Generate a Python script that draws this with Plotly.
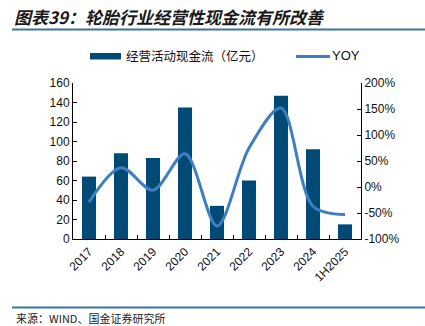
import plotly.graph_objects as go

categories = ['2017', '2018', '2019', '2020', '2021', '2022', '2023', '2024', '1H2025']
cash_flow = [64, 88, 83, 135, 34, 60, 147, 92, 15]
yoy_pct = [-29, 37, -6, 64, -75, 75, 152, -37, -53]
y1_ticks = [0, 20, 40, 60, 80, 100, 120, 140, 160]
y2_ticks = [-100, -50, 0, 50, 100, 150, 200]

BAR_COLOR = '#004a75'
LINE_COLOR = '#3e7fc1'
FONT = 'Liberation Sans, Arial, sans-serif'
CJK = 'Noto Sans CJK SC, sans-serif'

W, H = 425, 326
L, R, T, B = 73, 361, 83, 239


def px(x):
    return (x - L) / (R - L)


def py(y):
    return (B - y) / (B - T)


fig = go.Figure()
fig.add_trace(go.Bar(x=categories, y=cash_flow, marker_color=BAR_COLOR,
                     marker_line_width=0, name='经营活动现金流（亿元）', yaxis='y'))
fig.add_trace(go.Scatter(x=categories, y=yoy_pct, mode='lines',
                         line=dict(color=LINE_COLOR, width=3, shape='spline', smoothing=0.9),
                         name='YOY', yaxis='y2'))

fig.update_layout(
    width=W, height=H,
    margin=dict(l=L, r=W - R, t=T, b=H - B),
    paper_bgcolor='white', plot_bgcolor='white',
    showlegend=False,
    bargap=0.56,
    font=dict(family=FONT, size=12, color='#111111'),
    xaxis=dict(type='category', tickangle=-45, showline=True, linecolor='black', linewidth=1,
               ticks='inside', tickson='boundaries', ticklen=4, tickcolor='black',
               tickfont=dict(size=12, family=FONT), showgrid=False, zeroline=False),
    yaxis=dict(range=[0, 160], tickvals=y1_ticks, showline=True, linecolor='black', linewidth=1,
               ticks='inside', ticklen=4, tickcolor='black', showgrid=False, zeroline=False,
               tickfont=dict(size=12, family=FONT)),
    yaxis2=dict(range=[-100, 200], tickvals=y2_ticks, ticktext=[f'{v}%' for v in y2_ticks],
                overlaying='y', side='right', showline=True, linecolor='black', linewidth=1,
                ticks='inside', ticklen=4, tickcolor='black', showgrid=False, zeroline=False,
                tickfont=dict(size=12, family=FONT)),
)

shapes = []
annotations = []
# title
annotations.append(dict(xref='paper', yref='paper', x=px(12), y=py(17), xanchor='left', yanchor='middle',
                        text='<b><i>图表39：轮胎行业经营性现金流有所改善</i></b>', showarrow=False,
                        font=dict(family=CJK, size=17, color='#1a1a1a')))
shapes.append(dict(type='line', xref='paper', yref='paper', x0=px(12), x1=px(425), y0=py(29.5), y1=py(29.5),
                   line=dict(color='#3a72a0', width=2)))
# footer
shapes.append(dict(type='line', xref='paper', yref='paper', x0=px(12), x1=px(425), y0=py(307.5), y1=py(307.5),
                   line=dict(color='#3a72a0', width=2)))
annotations.append(dict(xref='paper', yref='paper', x=px(14), y=py(318), xanchor='left', yanchor='middle',
                        text='来源：WIND、国金证券研究所', showarrow=False,
                        font=dict(family=CJK, size=11, color='#222222')))
# legend
shapes.append(dict(type='rect', xref='paper', yref='paper', x0=px(90), x1=px(121), y0=py(53), y1=py(59.5),
                   fillcolor=BAR_COLOR, line=dict(width=0)))
annotations.append(dict(xref='paper', yref='paper', x=px(124), y=py(56), xanchor='left', yanchor='middle',
                        text='经营活动现金流（亿元）', showarrow=False,
                        font=dict(family=CJK, size=12.5, color='#111111')))
shapes.append(dict(type='line', xref='paper', yref='paper', x0=px(296), x1=px(330), y0=py(56.5), y1=py(56.5),
                   line=dict(color=LINE_COLOR, width=3)))
annotations.append(dict(xref='paper', yref='paper', x=px(330), y=py(56), xanchor='left', yanchor='middle',
                        text='YOY', showarrow=False,
                        font=dict(family=FONT, size=13, color='#111111')))

fig.update_layout(shapes=shapes, annotations=annotations)
fig.write_html('out.html')
